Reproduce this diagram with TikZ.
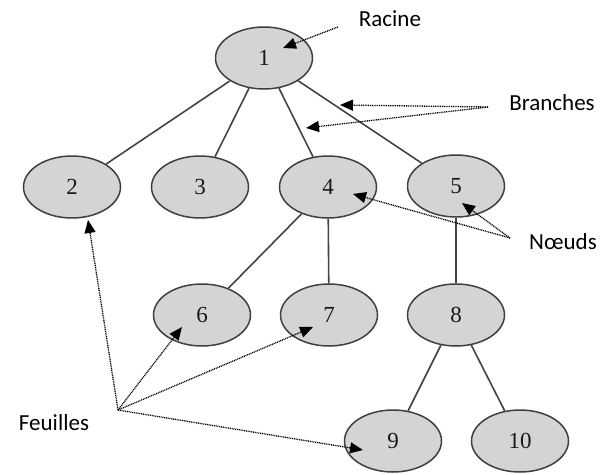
\documentclass[tikz,border=0pt]{standalone}
\usepackage{fontspec}
\setmainfont{Liberation Serif}
\newfontfamily\lblfont{Carlito}
\usetikzlibrary{shapes.geometric,arrows.meta}
\definecolor{nodefill}{HTML}{D4D4D4}
\definecolor{nodeborder}{HTML}{404040}
\definecolor{edgecol}{HTML}{444444}
\tikzset{
  treenode/.style={ellipse, draw=nodeborder, fill=nodefill, line width=1.5bp,
    minimum width=97bp, minimum height=62bp, inner sep=0pt,
    font=\fontsize{23bp}{23bp}\selectfont, text=black!90},
  edge/.style={draw=edgecol, line width=1.6bp},
  lbl/.style={font=\lblfont\fontsize{23bp}{23bp}\selectfont, text=black, inner sep=0pt},
  pointer/.style={draw=black, line width=1.3bp, dash pattern=on 1bp off 0.8bp,
    -{Triangle[length=13bp,width=11bp]}}
}
\begin{document}
\begin{tikzpicture}[x=1bp,y=-1bp]
\useasboundingbox (0,0) rectangle (610,475);
% nodes
\node[treenode] (n1) at (264,58) {1};
\node[treenode] (n2) at (72,187) {2};
\node[treenode] (n3) at (200,187) {3};
\node[treenode] (n4) at (328,187) {4};
\node[treenode] (n5) at (456,186) {5};
\node[treenode] (n6) at (202,315) {6};
\node[treenode] (n7) at (329,315) {7};
\node[treenode] (n8) at (456,315) {8};
\node[treenode] (n9) at (393,441) {9};
\node[treenode] (n10) at (520,441) {10};
% edges
\draw[edge] (n1) -- (n2);
\draw[edge] (n1) -- (n3);
\draw[edge] (n1) -- (n4);
\draw[edge] (n1) -- (n5);
\draw[edge] (n4) -- (n6);
\draw[edge] (n4) -- (n7);
\draw[edge] (n5) -- (n8);
\draw[edge] (n8) -- (n9);
\draw[edge] (n8) -- (n10);
% labels
\node[lbl] (racine) at (390,19) {Racine};
\node[lbl] (branches) at (552,103) {Branches};
\node[lbl] (noeuds) at (563,242) {Nœuds};
\node[lbl] (feuilles) at (54,423) {Feuilles};
% pointer origins and targets
\coordinate (rO) at (338,27);
\coordinate (rT) at (283,48);
\coordinate (bO) at (488,107);
\coordinate (bT1) at (340,105);
\coordinate (bT2) at (306,128);
\coordinate (nO) at (510,238);
\coordinate (nT4) at (353,194);
\coordinate (nT5) at (462,203);
\coordinate (fO) at (118,410);
\coordinate (fT2) at (88,220);
\coordinate (fT6) at (182,327);
\coordinate (fT7) at (313,327);
\coordinate (fT9) at (363,450);
% pointers
\draw[pointer] (rO) -- (rT);
\draw[pointer] (bO) -- (bT1);
\draw[pointer] (bO) -- (bT2);
\draw[pointer] (nO) -- (nT4);
\draw[pointer] (nO) -- (nT5);
\draw[pointer] (fO) -- (fT2);
\draw[pointer] (fO) -- (fT6);
\draw[pointer] (fO) -- (fT7);
\draw[pointer] (fO) -- (fT9);
\end{tikzpicture}
\end{document}
